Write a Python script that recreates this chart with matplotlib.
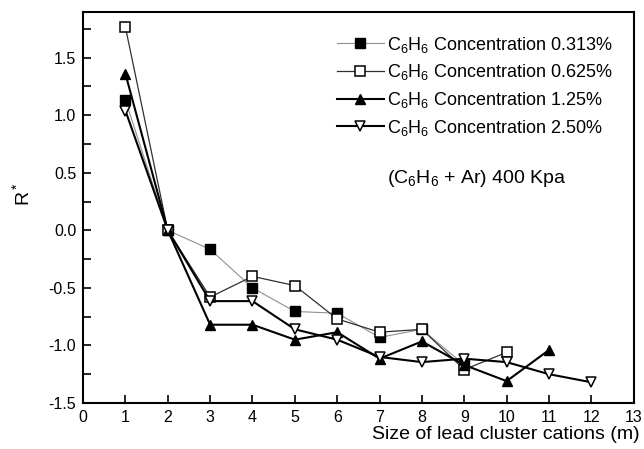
import matplotlib.pyplot as plt
from matplotlib.ticker import MultipleLocator

plt.rcParams['font.family'] = ['Liberation Sans', 'DejaVu Sans']
plt.rcParams['mathtext.default'] = 'regular'

# Daten
m_a = [1, 2, 3, 4, 5, 6, 7, 8, 9]
r_a = [1.13, 0.0, -0.165, -0.50, -0.705, -0.72, -0.93, -0.86, -1.17]

m_b = [1, 2, 3, 4, 5, 6, 7, 8, 9, 10]
r_b = [1.765, 0.0, -0.58, -0.40, -0.48, -0.77, -0.885, -0.86, -1.21, -1.06]

m_c = [1, 2, 3, 4, 5, 6, 7, 8, 9, 10, 11]
r_c = [1.36, 0.0, -0.82, -0.82, -0.95, -0.885, -1.115, -0.965, -1.17, -1.31, -1.04]

m_d = [1, 2, 3, 4, 5, 6, 7, 8, 9, 10, 11, 12]
r_d = [1.04, 0.0, -0.615, -0.615, -0.86, -0.95, -1.10, -1.145, -1.115, -1.145, -1.25, -1.32]

labels = ['C$_6$H$_6$ Concentration 0.313%',
          'C$_6$H$_6$ Concentration 0.625%',
          'C$_6$H$_6$ Concentration 1.25%',
          'C$_6$H$_6$ Concentration 2.50%']

fig = plt.figure(figsize=(6.44, 4.49), dpi=100)
ax = fig.add_axes([0.129, 0.1025, 0.855, 0.8705])

ax.plot(m_a, r_a, color='#909090', lw=0.8, marker='s', ms=6.5,
        mfc='black', mec='black', label=labels[0])
ax.plot(m_b, r_b, color='#303030', lw=0.9, marker='s', ms=6.5,
        mfc='white', mec='black', mew=1.1, label=labels[1])
ax.plot(m_c, r_c, color='black', lw=1.5, marker='^', ms=7.5,
        mfc='black', mec='black', label=labels[2])
ax.plot(m_d, r_d, color='black', lw=1.5, marker='v', ms=7.5,
        mfc='white', mec='black', mew=1.1, label=labels[3])

ax.set_xlim(0, 13)
ax.set_ylim(-1.5, 1.896)
ax.xaxis.set_major_locator(MultipleLocator(1))
ax.yaxis.set_major_locator(MultipleLocator(0.5))
ax.yaxis.set_minor_locator(MultipleLocator(0.25))
ax.yaxis.set_major_formatter(plt.FormatStrFormatter('%.1f'))
ax.tick_params(direction='in', length=6, width=1.2, labelsize=11.5, pad=5,
               top=False, right=False)
ax.tick_params(axis='y', which='minor', direction='in', length=6, width=1.2)
for s in ax.spines.values():
    s.set_linewidth(1.5)

ax.set_xlabel('Size of lead cluster cations (m)', fontsize=14, ha='right')
ax.xaxis.set_label_coords(1.01, -0.058)
ax.set_ylabel('R$^*$', fontsize=14)
ax.yaxis.set_label_coords(-0.09, 0.535)

ax.legend(loc='upper left', bbox_to_anchor=(0.461, 0.942), frameon=False,
          fontsize=13, handlelength=2.6, handletextpad=0.2,
          labelspacing=0.42, borderpad=0, borderaxespad=0)
ax.text(9.3, 0.45, '(C$_6$H$_6$ + Ar) 400 Kpa', fontsize=14, ha='center',
        va='center')

plt.savefig('out.png', dpi=100)
